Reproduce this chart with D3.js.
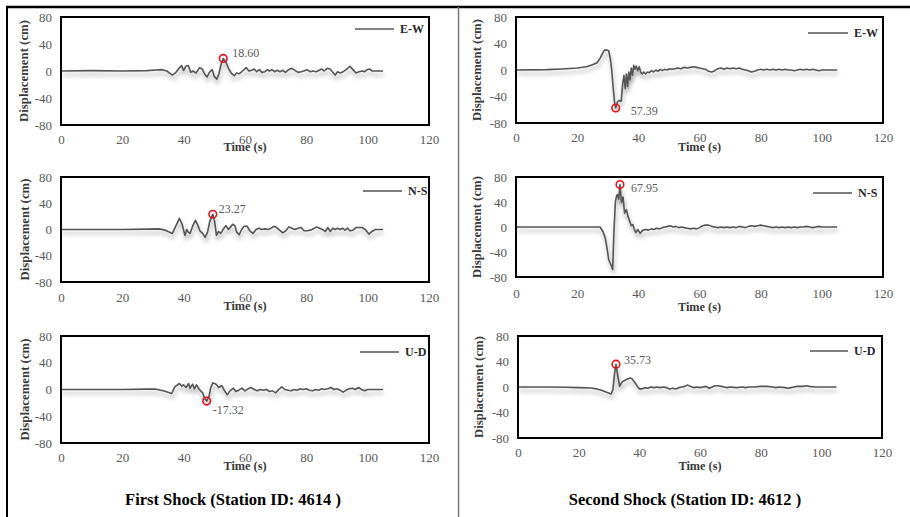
<!DOCTYPE html>
<html>
<head>
<meta charset="utf-8">
<script src="https://cdn.jsdelivr.net/npm/d3@7"></script>
<style>
  body { margin: 0; background: #fff; }
  svg { display: block; font-family: "Liberation Serif", "Times New Roman", serif; }
</style>
</head>
<body>
<svg id="chart" width="910" height="517"></svg>
<script>
// displacement records [time (s), displacement (cm)]
const ewFirst = [[0,0],[10,0.5],[20,0],[28,0.5],[31,1.5],[33,2],[34.5,0],[36.3,-6],[37.5,-2],[38.5,4],[39.3,8],[40,1],[40.7,7],[41.5,8],[42.3,-2],[43,0],[44,-3],[45.2,5],[46,3],[46.8,-4],[47.6,-9],[48.4,-2],[49.3,2],[50,-8],[50.8,-12],[51.5,-4],[52.2,10],[52.9,18.6],[53.8,13],[54.6,4],[55.5,-3],[56.5,-7],[57.3,-3],[58.2,-4],[59.2,0],[60.4,5],[61.3,0],[62.2,1],[63,3],[63.8,-1],[64.7,2],[65.5,-2],[66.5,-1],[67.3,2],[68,0],[68.8,2],[69.6,-1],[70.5,1],[71.4,-1],[72.3,1],[73.2,-2],[74.2,2],[75.3,4],[76.3,1],[77.3,-2],[78.3,-1],[79.2,0],[80.2,2],[81.2,-1],[82.2,0],[83.2,-1],[84.2,1],[85,3],[85.8,0],[86.8,4],[87.7,3],[88.5,-1],[89.4,-6],[90.2,-1],[91,-3],[92,-1],[93,2],[94.2,7],[95.2,2],[96.2,-3],[97.2,-1],[98.2,0],[99,-1],[99.8,2],[100.6,3],[101.5,0],[103,0],[105,0]];
const ewSecond = [[0,0],[10,0.5],[15,1.5],[20,3],[23,5],[25,8],[26.5,11],[27.5,18],[28.3,25],[28.9,30],[29.8,30],[30.3,29],[30.8,18],[31.3,0],[31.8,-28],[32.2,-48],[32.6,-57.39],[33.2,-48],[33.8,-46],[34.4,-47],[34.9,-20],[35.3,-8],[35.7,-28],[36.1,-6],[36.5,-25],[36.9,-3],[37.3,-15],[37.7,3],[38.1,-8],[38.5,7],[38.9,1],[39.3,6],[39.8,-1],[40.3,5],[40.8,-4],[41.3,-6],[41.8,-3],[42.4,-6],[43,-3],[43.6,-4],[44.3,-1],[45,-3],[45.7,0],[46.4,-2],[47.1,1],[47.8,-1],[48.6,1],[49.4,0],[50.2,2],[51,1],[52,2],[53,3],[54,2],[55,4],[56,3],[57,4],[58,5],[59,4],[60,3],[61,2],[62,1],[63,-2],[64,-3],[65,-1],[66,2],[67,3],[68,1],[69,3],[70,2],[71,3],[72,2],[73,3],[74,1],[75,0],[76,-1],[77,-3],[78,-2],[79,0],[80,1],[81,0],[82,1],[83,0],[84,1],[85,0],[86,1],[87,0],[88,1],[89,0],[90,0],[91,-1],[92,0],[93,1],[94,0],[95,1],[96,0],[97,1],[98,0],[99,-1],[100,0],[102,0],[105,0]];
const nsFirst = [[0,0],[10,0],[20,0],[28,0.5],[32,1],[34,-1],[36.3,-6],[37.5,6],[38.6,17],[39.5,8],[40.4,-9],[41,0],[41.5,-4],[42.1,-6],[43,6],[43.8,14],[44.5,8],[45.3,-2],[46.2,-6],[47,-12],[47.8,-4],[48.5,12],[49.5,23.27],[50.1,12],[50.7,-9],[51.4,-3],[52.1,-6],[53,1],[53.8,6],[54.6,0],[55.3,4],[56,8],[56.7,6],[57.3,-4],[58.1,-8],[58.9,0],[59.7,5],[60.7,5],[61.6,-2],[62.6,-6],[63.6,0],[64.6,2],[65.5,0],[66.5,1],[67.5,0],[68.5,2],[69.5,5],[70.3,3],[71.3,-1],[72.3,-5],[73.3,-2],[74.3,4],[75.3,2],[76.3,0],[77.3,2],[78.3,3],[79.3,-2],[80.3,-2],[81.3,-1],[82.3,1],[83.3,4],[84.3,2],[85.3,0],[86.2,-3],[87,3],[87.8,-3],[88.6,2],[89.4,0],[90.2,2],[91,0],[91.8,2],[92.6,-1],[93.4,2],[94.3,-2],[95.2,-1],[96.2,3],[97.2,3],[98.2,3],[99.2,0],[100.4,-7],[101.4,-3],[102.5,0],[105,0]];
const nsSecond = [[0,0],[10,0],[20,0],[27.5,0],[28.5,-8],[29.2,-18],[29.8,-35],[30.3,-52],[30.8,-58],[31.2,-62],[31.6,-68],[32,-10],[32.5,40],[32.9,50],[33.2,52],[33.6,44],[34,67.95],[34.5,39],[35,48],[35.5,22],[36.1,28],[36.6,17],[37.2,9],[37.7,2],[38.2,4],[38.7,-4],[39.2,-9],[39.8,-4],[40.6,-10],[41.5,-5],[42.4,-4],[43.3,-5],[44.2,-3],[45.1,-4],[46,-2],[46.9,-3],[47.8,-1],[48.7,0],[49.6,1],[50.5,2],[51.4,0],[52.3,1],[53.2,-1],[54.1,0],[55,-1],[56,-2],[57,-3],[58,-2],[59,-3],[60,-1],[61,2],[62,3],[63,3],[64,1],[65,0],[66,-1],[67,0],[68,-1],[69,0],[70,-1],[71,0],[72,-1],[73,1],[74,0],[75,-1],[76,1],[77,2],[78,1],[79,2],[80,3],[81,2],[82,1],[83,0],[84,-1],[85,0],[86,-1],[87,0],[88,-1],[89,0],[90,-1],[91,0],[92,-1],[93,0],[94,0],[95,1],[96,0],[97,-1],[98,0],[99,1],[100,0],[102,0],[105,0]];
const udFirst = [[0,0],[10,0],[20,0],[28,0.5],[31,0.5],[33.4,-2],[36.1,-6],[37.1,4],[38.6,9],[39.4,5],[39.9,7],[40.8,3],[41.6,9],[42.1,2],[42.9,8],[43.5,1],[44.2,7],[45.1,0],[46.2,-5],[46.9,-14],[47.5,-17.32],[48.3,-10],[48.8,2],[49.5,10],[50.6,8],[51.4,3],[52.4,6],[53.1,0],[54.2,-8],[55.1,-2],[56.2,2],[57,-3],[58,-1],[59,2],[60,-2],[61,1],[62,3],[63,0],[64,-2],[65,0],[66,-1],[67,0],[68,-3],[69,-2],[70,-5],[71,0],[72,4],[73,0],[74,-1],[75,-2],[76,0],[77,-1],[78,1],[79,0],[80,1],[81,-1],[82,-2],[83,0],[84,-1],[85,1],[86,0],[87,1],[88,3],[89,0],[90,1],[91,-1],[92,-4],[93,-1],[94,1],[95,2],[96,0],[97,3],[98,0],[99,-2],[100,0],[102,0],[105,0]];
const udSecond = [[0,0],[10,0],[16,-0.5],[20,-1],[24,-1.5],[26,-3],[27.5,-5],[29,-8],[30.7,-11],[31.3,-4],[31.8,20],[32.3,35.73],[32.8,20],[33.5,1],[34.3,8],[35.4,11],[36.3,13],[36.9,14],[37.6,13],[38.7,6],[39.5,0],[40.1,-3],[40.8,-3],[41.8,-1],[42.8,-2],[43.8,0],[44.8,-1],[45.8,0],[46.9,-1],[48,0],[49,-1],[50,-3],[51,-2],[52,-3],[53,-1],[54,0],[55,1],[55.8,3],[56.8,1],[58,-1],[59,0],[60,-1],[61,0],[62,1],[63,-2],[64,0],[65,2],[66,2],[67,1],[68,0],[69,-1],[70,0],[72,-1],[74,0],[75,-1],[76,0],[78,0],[80,1],[82,1],[84,0],[85,-1],[86,0],[88,-1],[89,-2],[90,-1],[91,0],[92,1],[94,1],[95,2],[96,1],[98,0],[100,0],[102,0],[105,0]];

const components = ['E-W', 'E-W', 'N-S', 'N-S', 'U-D', 'U-D'];
const peakTimes = [52.9, 32.6, 49.5, 34, 47.5, 32.3];
const peakValues = [18.6, -57.39, 23.27, 67.95, -17.32, 35.73];
const peakLabels = ['18.60', '57.39', '23.27', '67.95', '-17.32', '35.73'];
const xTicks = [0, 20, 40, 60, 80, 100, 120];
const yTicks = [-80, -40, 0, 40, 80];
const shockTitles = ['First Shock (Station ID: 4614 )', 'Second Shock (Station ID: 4612 )'];

const seriesList = [ewFirst, ewSecond, nsFirst, nsSecond, udFirst, udSecond];

// layout of each small chart (box, label offsets)
const panels = [
  { box: [61, 17, 429, 125], tickY: 139, timeY: 147, ylabX: 24, leg: [355, 394, 29], lab: [9, -5] },
  { box: [516, 17, 883, 123], tickY: 137, timeY: 147, ylabX: 477, leg: [808, 848, 33], lab: [15, 2.5] },
  { box: [61, 177, 429, 282], tickY: 297.5, timeY: 306, ylabX: 25, leg: [363, 402, 191], lab: [6, -5] },
  { box: [516, 177, 883, 277], tickY: 293, timeY: 307, ylabX: 477, leg: [813, 852, 193], lab: [11, 3] },
  { box: [61, 336, 429, 443], tickY: 457, timeY: 466, ylabX: 25, leg: [360, 399, 352], lab: [6, 9] },
  { box: [518, 336, 882, 438], tickY: 452, timeY: 466, ylabX: 479, leg: [810, 848, 351], lab: [8, -4] }
];

const svg = d3.select('#chart');

// drop shadow under the traces
const defs = svg.append('defs');
defs.append('filter').attr('id', 'shadow')
  .attr('x', '-5%').attr('y', '-30%').attr('width', '110%').attr('height', '160%')
  .append('feDropShadow')
  .attr('dx', 1).attr('dy', 4).attr('stdDeviation', 2)
  .attr('flood-color', '#000').attr('flood-opacity', 0.35);

// outer frame
svg.append('line').attr('x1', 6).attr('x2', 910).attr('y1', 7).attr('y2', 7)
  .attr('stroke', '#000').attr('stroke-width', 2.5);
svg.append('line').attr('x1', 7).attr('x2', 7).attr('y1', 6).attr('y2', 517)
  .attr('stroke', '#000').attr('stroke-width', 2);
svg.append('line').attr('x1', 458.5).attr('x2', 458.5).attr('y1', 7).attr('y2', 517)
  .attr('stroke', '#777').attr('stroke-width', 1.5);

panels.forEach((p, i) => {
  const [x0, y0, x1, y1] = p.box;
  const x = d3.scaleLinear().domain([0, 120]).range([x0, x1]);
  const y = d3.scaleLinear().domain([-80, 80]).range([y1, y0]);
  const g = svg.append('g');

  // y axis
  const ya = g.append('g').attr('transform', `translate(${x0},0)`)
    .call(d3.axisLeft(y).tickValues(yTicks).tickFormat(d => String(d)).tickSize(0).tickPadding(9));
  ya.select('.domain').remove();
  ya.selectAll('text').attr('font-family', 'Liberation Serif').attr('font-size', 13).attr('fill', '#595959');

  // x axis
  const xa = g.append('g').attr('transform', `translate(0,${y1})`)
    .call(d3.axisBottom(x).tickValues(xTicks).tickFormat(d => String(d)).tickSize(0).tickPadding(p.tickY - y1 - 4.5));
  xa.select('.domain').remove();
  xa.selectAll('text').attr('font-family', 'Liberation Serif').attr('font-size', 13).attr('fill', '#595959');

  // axis titles
  g.append('text')
    .attr('x', (x0 + x1) / 2).attr('y', p.timeY)
    .attr('text-anchor', 'middle').attr('dominant-baseline', 'central')
    .attr('font-size', 12.3).attr('font-weight', 'bold').attr('fill', '#3a3a3a')
    .text('Time (s)');
  g.append('text')
    .attr('transform', `translate(${p.ylabX},${(y0 + y1) / 2}) rotate(-90)`)
    .attr('text-anchor', 'middle').attr('dominant-baseline', 'central')
    .attr('font-size', 12.8).attr('font-weight', 'bold').attr('fill', '#3a3a3a')
    .text('Displacement (cm)');

  // trace
  const line = d3.line().x(d => x(d[0])).y(d => y(d[1]));
  g.append('path')
    .datum(seriesList[i])
    .attr('d', line)
    .attr('fill', 'none')
    .attr('stroke', '#555')
    .attr('stroke-width', 1.6)
    .attr('stroke-linejoin', 'round')
    .attr('filter', 'url(#shadow)');

  // plot box
  g.append('rect')
    .attr('x', x0).attr('y', y0).attr('width', x1 - x0).attr('height', y1 - y0)
    .attr('fill', 'none').attr('stroke', '#000').attr('stroke-width', 2);

  // legend
  g.append('line')
    .attr('x1', p.leg[0]).attr('x2', p.leg[1]).attr('y1', p.leg[2]).attr('y2', p.leg[2])
    .attr('stroke', '#555').attr('stroke-width', 1.6);
  g.append('text')
    .attr('x', p.leg[1] + 6).attr('y', p.leg[2]).attr('dominant-baseline', 'central')
    .attr('font-size', 12).attr('font-weight', 'bold').attr('fill', '#262626')
    .text(components[i]);

  // peak marker
  const px = x(peakTimes[i]), py = y(peakValues[i]);
  g.append('circle')
    .attr('cx', px).attr('cy', py).attr('r', 3.8)
    .attr('fill', 'none').attr('stroke', '#e8141b').attr('stroke-width', 1.6);
  g.append('text')
    .attr('x', px + p.lab[0]).attr('y', py + p.lab[1])
    .attr('dominant-baseline', 'central')
    .attr('font-size', 12).attr('fill', '#595959')
    .text(peakLabels[i]);
});

// column titles
svg.selectAll('.shock-title')
  .data(shockTitles)
  .enter()
  .append('text')
  .attr('class', 'shock-title')
  .attr('x', (d, i) => i === 0 ? 233 : 685)
  .attr('y', 499)
  .attr('text-anchor', 'middle').attr('dominant-baseline', 'central')
  .attr('font-size', 16.5).attr('font-weight', 'bold').attr('fill', '#000')
  .text(d => d);
</script>
</body>
</html>
